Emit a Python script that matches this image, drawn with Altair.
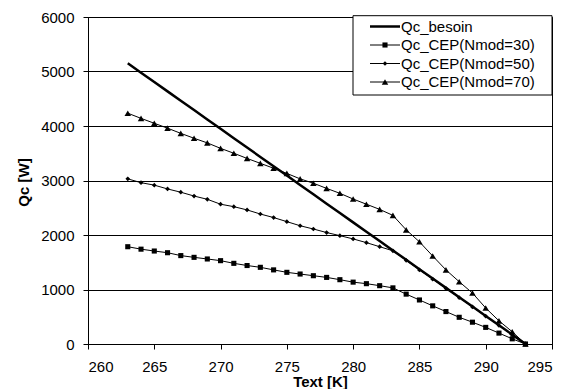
import altair as alt
import pandas as pd

# ---- data ----
text_K = list(range(263, 294))
qc_besoin = [5150, 4978, 4807, 4635, 4463, 4292, 4120, 3948, 3777, 3605, 3433,
             3262, 3090, 2918, 2747, 2575, 2403, 2232, 2060, 1888, 1717,
             1545, 1373, 1202, 1030, 858, 687, 515, 343, 172, 0]
qc_n30 = [1785, 1740, 1706, 1675, 1622, 1590, 1560, 1529, 1480, 1440, 1407,
          1360, 1315, 1284, 1253, 1222, 1180, 1135, 1107, 1070, 1030,
          915, 808, 700, 595, 490, 400, 305, 200, 95, 0]
qc_n50 = [3030, 2960, 2915, 2845, 2785, 2715, 2655, 2565, 2520, 2460, 2385,
          2320, 2245, 2170, 2110, 2045, 1988, 1928, 1860, 1785, 1710,
          1535, 1360, 1190, 1020, 850, 680, 510, 340, 165, 0]
qc_n70 = [4235, 4140, 4050, 3960, 3865, 3775, 3690, 3590, 3500, 3405, 3315,
          3225, 3130, 3030, 2950, 2855, 2765, 2660, 2565, 2470, 2360,
          2095, 1875, 1615, 1360, 1143, 935, 660, 425, 225, 0]
series_names = ["Qc_besoin", "Qc_CEP(Nmod=30)", "Qc_CEP(Nmod=50)", "Qc_CEP(Nmod=70)"]
x_ticks = [260, 265, 270, 275, 280, 285, 290, 295]
y_ticks = [0, 1000, 2000, 3000, 4000, 5000, 6000]

rows = []
for name, vals in zip(series_names, [qc_besoin, qc_n30, qc_n50, qc_n70]):
    for t, q in zip(text_K, vals):
        rows.append({"Text": t, "Qc": q, "series": name})
df = pd.DataFrame(rows)

FONT = "Liberation Sans, Arial"

x_enc = alt.X("Text:Q",
              scale=alt.Scale(domain=[260, 295], nice=False, zero=False),
              axis=alt.Axis(values=x_ticks, title="Text [K]", grid=False,
                            labelPadding=10.5, titleY=42.4,
                            titleBaseline="alphabetic"))
y_enc = alt.Y("Qc:Q",
              scale=alt.Scale(domain=[0, 6000], nice=False),
              axis=alt.Axis(values=y_ticks, title="Qc [W]", grid=True, format="d",
                            labelPadding=9, titleX=-65, titleY=165,
                            titleAngle=270, titleAlign="center",
                            titleBaseline="middle"))

base = alt.Chart(df)

besoin_line = base.transform_filter(alt.datum.series == series_names[0]).mark_line(
    color="black", strokeWidth=2.5).encode(x=x_enc, y=y_enc)

cep_lines = base.transform_filter(alt.datum.series != series_names[0]).mark_line(
    color="black", strokeWidth=1).encode(x=x_enc, y=y_enc, detail="series:N")

marker_shapes = ["square", "diamond", "triangle-up"]
marker_sizes = [26, 22, 42]
point_layers = []
for name, shp, sz in zip(series_names[1:], marker_shapes, marker_sizes):
    point_layers.append(
        base.transform_filter(alt.datum.series == name).mark_point(
            filled=True, color="black", opacity=1, shape=shp, size=sz
        ).encode(x=x_enc, y=y_enc)
    )

# ---- legend drawn by hand (box, sample line, marker, label per row) ----
LEG_X0, LEG_X1, LEG_Y0, LEG_Y1 = 265, 464, -1.3, 78
ROW_Y0, ROW_DY = 9.5, 18.5
SYM_X0, SYM_X1, LABEL_X = 282, 312, 313

legend_layers = [
    alt.Chart(pd.DataFrame({"box": [0]})).mark_rect(
        fill="white", stroke="black", strokeWidth=1
    ).encode(x=alt.value(LEG_X0), x2=alt.value(LEG_X1),
             y=alt.value(LEG_Y0), y2=alt.value(LEG_Y1))
]
for i, name in enumerate(series_names):
    yy = ROW_Y0 + i * ROW_DY
    one = alt.Chart(pd.DataFrame({"series": [name]}))
    legend_layers.append(
        one.mark_rule(color="black", strokeWidth=2.5 if i == 0 else 1).encode(
            x=alt.value(SYM_X0), x2=alt.value(SYM_X1), y=alt.value(yy)))
    if i > 0:
        legend_layers.append(
            one.mark_point(filled=True, color="black", opacity=1,
                           shape=marker_shapes[i - 1], size=marker_sizes[i - 1]
                           ).encode(x=alt.value((SYM_X0 + SYM_X1) / 2), y=alt.value(yy)))
    legend_layers.append(
        one.mark_text(align="left", baseline="middle", font=FONT, fontSize=15,
                      color="black").encode(
            x=alt.value(LABEL_X), y=alt.value(yy), text="series:N"))

chart = alt.layer(besoin_line, cep_lines, *point_layers, *legend_layers).properties(
    width=464, height=327,
    autosize=alt.AutoSizeParams(type="none"),
    padding={"left": 80, "top": 9, "right": 10, "bottom": 45},
).configure_axis(
    labelFont=FONT, labelFontSize=15, labelColor="black",
    titleFont=FONT, titleFontSize=15, titleFontWeight="bold", titleColor="black",
    domainColor="black", tickColor="black", gridColor="black",
    tickSize=5, domainWidth=1, gridWidth=1, tickWidth=1,
).configure_view(stroke="black", strokeWidth=1)

chart.save("out.html", embed_options={"renderer": "svg", "actions": False})
